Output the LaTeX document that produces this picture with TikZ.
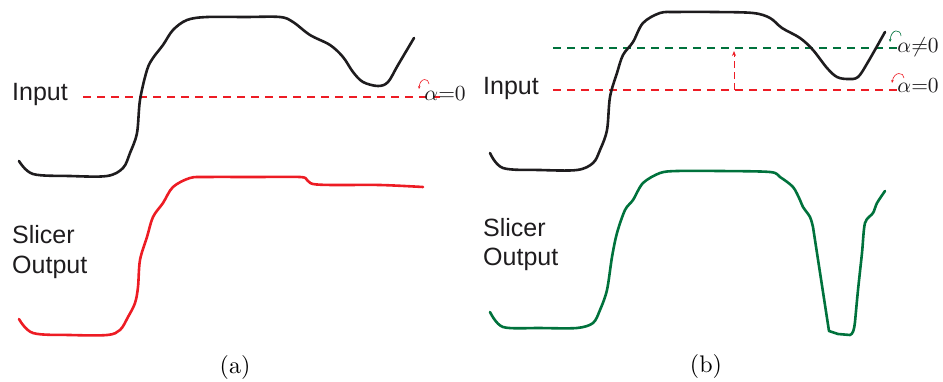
\documentclass[tikz,border=0pt]{standalone}
\usepackage{fontspec}
\newfontfamily\labfont{Liberation Sans}
\usetikzlibrary{arrows.meta}
\definecolor{pred}{RGB}{237,28,36}
\definecolor{pgreen}{RGB}{0,114,60}
\definecolor{pblack}{RGB}{30,28,30}
\tikzset{
  curve/.style={line width=2.6pt, line cap=round, line join=round},
  lbl/.style={anchor=west, inner sep=0pt, font=\labfont\fontsize{25}{29}\selectfont, text=pblack},
  alab/.style={anchor=base west, inner sep=0pt, scale=2.15, transform shape, text=pblack},
  captxt/.style={inner sep=0pt, scale=2.4, transform shape},
  dline/.style={line width=1.1pt, dash pattern=on 8pt off 6pt},
  rot/.style={line width=0.6pt, -{Stealth[length=3pt,width=2.5pt]}}
}
\begin{document}
\begin{tikzpicture}[x=1pt,y=-1pt]
\useasboundingbox (0,0) rectangle (943,381);
% ---------- panel (a) ----------
\node[lbl] (ina) at (12,94) {Input};
\node[lbl] (sla) at (12,235) {Slicer};
\node[lbl] (oua) at (12,267) {Output};
\node[captxt] (capa) at (235,367) {(a)};
\coordinate (dla1) at (83,97);
\coordinate (dla2) at (440,97);
\draw[color=pred, dline] (dla1) -- (dla2);
\node[alab] (aa) at (424,100) {$\alpha{=}0$};
\draw[color=pred, rot] (429,84) .. controls (429,78) and (420,77) .. (419,89);
\draw[pblack, curve] plot[smooth, tension=0.55] coordinates {
 (19,161) (33,174) (70,176) (107,176) (123,168) (130,153) (137,133) (140,100)
 (147,70) (153,58) (163,45) (173,30) (187,20) (207,17) (245,17) (280,17) (293,22)
 (310,35) (330,45) (343,57) (353,72) (363,82) (378,86) (388,82) (398,65) (414,38)};
\draw[pred, curve] plot[smooth, tension=0.55] coordinates {
 (19,319) (33,333) (70,335) (107,335) (120,330) (128,317) (135,303) (138,287) (140,260)
 (147,237) (153,217) (163,203) (173,187) (190,178) (207,177) (255,177) (300,177) (307,180)
 (313,184) (333,185) (380,185) (423,187)};
% ---------- panel (b) ----------
\node[lbl] (inb) at (483,88) {Input};
\node[lbl] (slb) at (483,228) {Slicer};
\node[lbl] (oub) at (483,259) {Output};
\node[captxt] (capb) at (706,366) {(b)};
\coordinate (g1) at (553,48);
\coordinate (g2) at (900,48);
\coordinate (r1) at (553,90);
\coordinate (r2) at (900,90);
\coordinate (v1) at (734,90);
\coordinate (v2) at (734,51);
\draw[color=pgreen, dline] (g1) -- (g2);
\draw[color=pred, dline] (r1) -- (r2);
\node[alab] (ab1) at (897,52) {$\alpha{\neq}0$};
\node[alab] (ab0) at (897,92) {$\alpha{=}0$};
\draw[color=pred, line width=1pt, dash pattern=on 7pt off 4pt, -{Stealth[length=5pt,width=4pt]}] (v1) -- (v2);
\draw[color=pgreen, rot] (901,36) .. controls (901,29) and (891,28) .. (890,42);
\draw[color=pred, rot] (904,78) .. controls (904,72) and (894,71) .. (892,83);
\draw[pblack, curve] plot[smooth, tension=0.55] coordinates {
 (490,153) (503,168) (540,170) (577,170) (593,163) (600,150) (607,130) (610,97)
 (617,73) (623,55) (633,42) (643,23) (660,13) (677,12) (715,12) (753,13) (770,18)
 (782,28) (800,38) (813,50) (827,68) (837,77) (848,79) (858,77) (868,62) (885,32)};
\draw[pgreen, curve] plot[smooth, tension=0.5] coordinates {
 (490,312) (503,327) (540,328) (577,328) (593,323) (600,310) (607,290) (612,257)
 (617,233) (625,210) (633,200) (643,183) (660,173) (677,171) (720,171) (770,172) (780,177)
 (793,187) (800,200) (803,207) (810,217) (813,227)}
 -- (829,331) -- (838,334) -- (850,335)
 .. controls (853,334) and (854,330) .. (855,322)
 plot[smooth, tension=0.5] coordinates {(855,322) (858,290) (862,253) (865,223) (873,213) (877,203) (885,191)};
\end{tikzpicture}
\end{document}
